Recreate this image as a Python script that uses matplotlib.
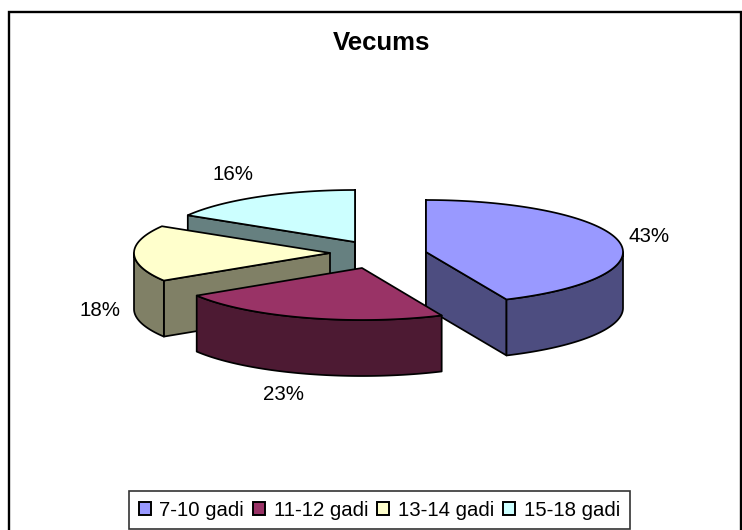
import numpy as np
import matplotlib
matplotlib.use("Agg")
import matplotlib.pyplot as plt
from matplotlib.patches import Polygon, Rectangle, Patch

plt.rcParams['font.family'] = ['Liberation Sans', 'DejaVu Sans']

title = "Vecums"
categories = ["7-10 gadi", "11-12 gadi", "13-14 gadi", "15-18 gadi"]
values = [43.3, 22.8, 17.5, 16.4]
labels = ["43%", "23%", "18%", "16%"]

top_colors = ["#9999FF", "#993366", "#FFFFCC", "#CCFFFF"]
side_colors = ["#4D4D80", "#4D1A33", "#808066", "#668080"]

# layout (pixels)
centers = [(426, 252), (362, 268), (330, 253), (355, 242)]
radii_x = [197, 195, 196, 195]
label_pos = [(649.5, 237), (284, 394), (100, 310), (233, 175)]
RY, DEPTH = 52, 56
LW = 1.25

fig = plt.figure(figsize=(7.42, 5.30), dpi=100, facecolor="white")
ax = fig.add_axes([0, 0, 1, 1])
ax.set_xlim(0, 742)
ax.set_ylim(530, 0)
ax.axis("off")

ax.add_patch(Rectangle((9, 12), 731.5, 540, fc="white", ec="black", lw=1.7, zorder=0))


def pt(c, rx, t):
    return (c[0] + rx * np.sin(t), c[1] - RY * np.cos(t))


def arc(c, rx, a, b):
    t = np.linspace(a, b, max(int((b - a) * 60), 2))
    return np.column_stack([c[0] + rx * np.sin(t), c[1] - RY * np.cos(t)])


def add_poly(points, color, z):
    ax.add_patch(Polygon(points, closed=True, fc=color, ec="black", lw=LW,
                         joinstyle="round", zorder=z))


def face_visible(c, rx, edge_t, mid_t):
    p = pt(c, rx, edge_t)
    m = pt(c, rx, mid_t)
    dx, dy = p[0] - c[0], p[1] - c[1]
    line_y = c[1] + dy * (m[0] - c[0]) / dx if abs(dx) > 1e-6 else m[1] + 1
    return m[1] < line_y


fractions = np.array(values, dtype=float) / sum(values)
edges = np.concatenate([[0], np.cumsum(fractions)]) * 2 * np.pi
order = [3, 2, 0, 1]  # back to front

for rank, i in enumerate(order):
    z = 2 + rank
    a, b = edges[i], edges[i + 1]
    c, rx = centers[i], radii_x[i]
    mid = (a + b) / 2
    for edge in (a, b):
        if face_visible(c, rx, edge, mid):
            p = pt(c, rx, edge)
            add_poly([c, p, (p[0], p[1] + DEPTH), (c[0], c[1] + DEPTH)], side_colors[i], z)
    lo, hi = max(a, np.pi / 2), min(b, 3 * np.pi / 2)
    if hi > lo:
        r = arc(c, rx, lo, hi)
        add_poly(np.vstack([r, r[::-1] + [0, DEPTH]]), side_colors[i], z)
    add_poly(np.vstack([[c], arc(c, rx, a, b)]), top_colors[i], z)

for lab, (x, y) in zip(labels, label_pos):
    ax.text(x, y, lab, ha="center", va="center", fontsize=14.8, color="black", zorder=10)

ax.text(382, 43, title, ha="center", va="center", fontsize=18.5, fontweight="bold", zorder=10)

handles = [Patch(fc=col, ec="black", lw=1.4) for col in top_colors]
leg = ax.legend(handles, categories, ncol=4, loc="center", bbox_to_anchor=(379.5 / 742, 1 - 510 / 530),
                bbox_transform=fig.transFigure, fontsize=14.7, frameon=True, fancybox=False,
                edgecolor="#333333", framealpha=1, handlelength=0.58, handleheight=0.58,
                handletextpad=0.42, columnspacing=0.45, borderpad=0.47, borderaxespad=0)
leg.get_frame().set_linewidth(1.2)
leg.set_zorder(10)

fig.savefig("out.png", dpi=100, facecolor="white")
